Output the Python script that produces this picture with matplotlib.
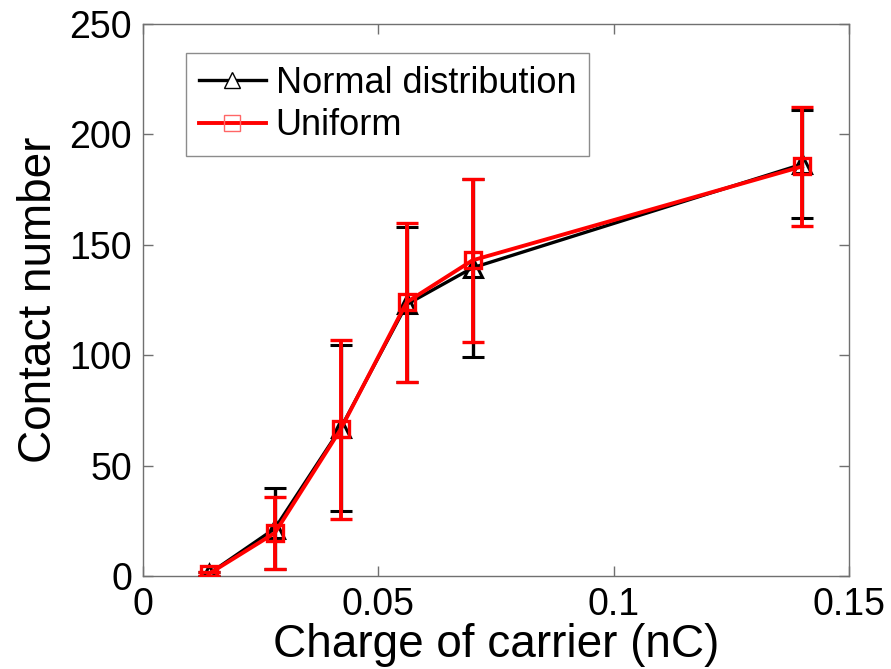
import matplotlib
matplotlib.use("Agg")
import matplotlib.pyplot as plt
from matplotlib.lines import Line2D

plt.rcParams['font.family'] = ['Liberation Sans', 'DejaVu Sans']

# Charge of carrier (nC)
charge = [0.014, 0.028, 0.042, 0.056, 0.070, 0.140]

# Contact number, normal distribution of charge
normal_mean = [1.0, 21.5, 67.0, 123.0, 139.6, 186.5]
normal_err = [1.0, 18.5, 37.5, 35.0, 40.4, 24.5]

# Contact number, uniform distribution of charge
uniform_mean = [1.0, 19.5, 66.5, 124.0, 143.0, 185.5]
uniform_err = [1.0, 16.5, 40.5, 36.0, 37.0, 27.0]

xticks = [0, 0.05, 0.1, 0.15]
xtick_labels = ['0', '0.05', '0.1', '0.15']
yticks = [0, 50, 100, 150, 200, 250]

fig = plt.figure(figsize=(8.91, 6.69), dpi=100)
ax = fig.add_axes([0.1605, 0.139, 0.7925, 0.825])

ax.errorbar(charge, normal_mean, yerr=normal_err, color='black', lw=2.4,
            elinewidth=2.4, capsize=8, capthick=2.6, marker='^', ms=13,
            mfc='none', mec='black', mew=2.2, zorder=3)
ax.errorbar(charge, uniform_mean, yerr=uniform_err, color='red', lw=2.8,
            elinewidth=2.8, capsize=8, capthick=2.8, marker='s', ms=11,
            mfc='none', mec='red', mew=2.4, zorder=4)

ax.set_xlim(0, 0.15)
ax.set_ylim(0, 250)
ax.set_xticks(xticks)
ax.set_xticklabels(xtick_labels)
ax.set_yticks(yticks)

frame_color = '#707070'
for sp in ax.spines.values():
    sp.set_color(frame_color)
    sp.set_linewidth(1.0)
ax.tick_params(direction='in', length=7, width=1.0, color=frame_color,
               labelsize=27, top=True, right=True, pad=8, labelcolor='black')

ax.set_xlabel('Charge of carrier (nC)', fontsize=33, labelpad=0)
ax.set_ylabel('Contact number', fontsize=33, labelpad=6)

handles = [
    Line2D([], [], color='black', lw=2.4, marker='^', ms=11, mfc='white',
           mec='black', mew=1.0),
    Line2D([], [], color='red', lw=2.8, marker='s', ms=11, mfc='none',
           mec='#ff6666', mew=1.0),
]
leg = ax.legend(handles, ['Normal distribution', 'Uniform'], loc='upper left',
                bbox_to_anchor=(0.061, 0.947), borderaxespad=0, fontsize=26,
                frameon=True, fancybox=False, handlelength=1.85,
                handletextpad=0.28, borderpad=0.35, labelspacing=0.2)
leg.get_frame().set_edgecolor(frame_color)
leg.get_frame().set_linewidth(1.0)

fig.savefig('out.png', dpi=100)
